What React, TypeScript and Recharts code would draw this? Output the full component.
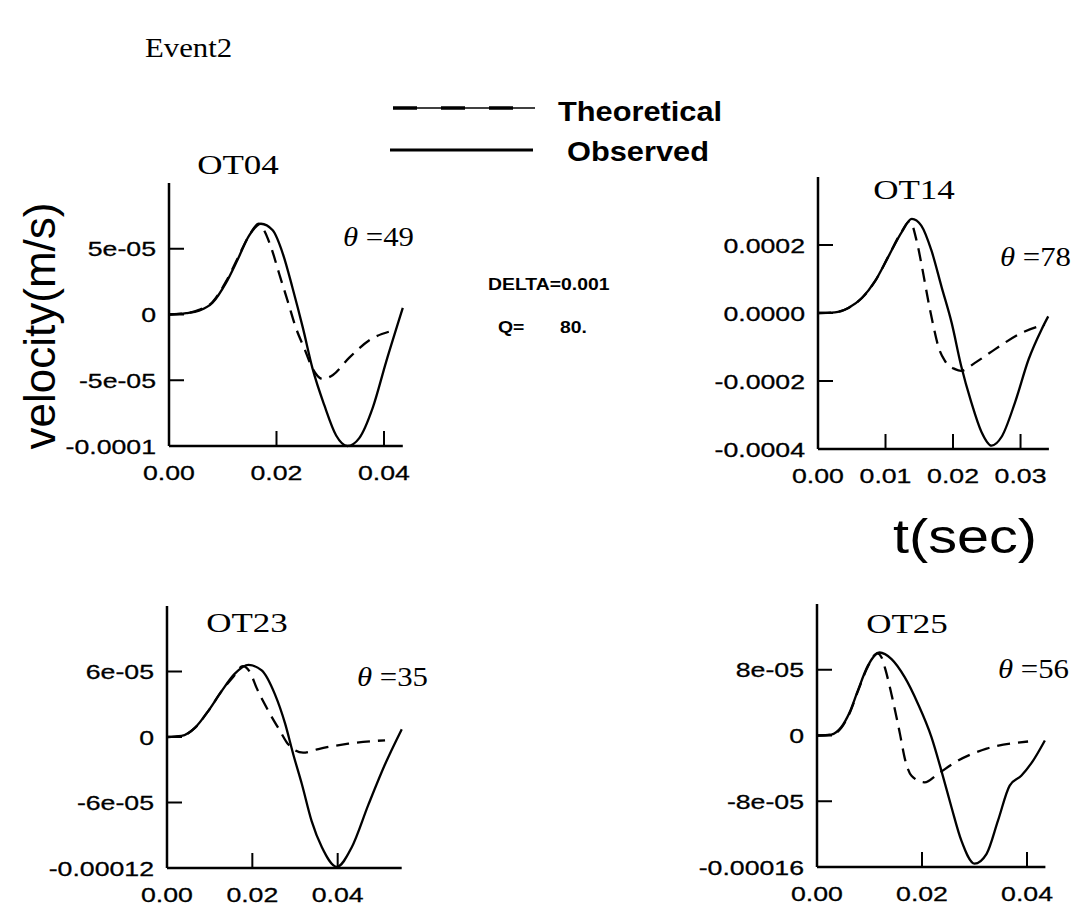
import React from "react";
import { LineChart, Line, XAxis, YAxis } from "recharts";

type Pt = [number, number];

// t (sec), velocity (m/s)
const ot04Observed: Pt[] = [
  [0, 0], [0.0032, 1e-6], [0.0056, 3e-6], [0.0081, 8.9e-6], [0.0106, 2.4e-5],
  [0.0128, 4.2e-5], [0.0149, 6e-5], [0.0171, 6.9e-5], [0.0193, 6.4e-5], [0.0212, 4.6e-5],
  [0.023, 2e-5], [0.0249, -1e-5], [0.0267, -4.1e-5], [0.0289, -6.9e-5], [0.0311, -9.2e-5],
  [0.0332, -1e-4], [0.0354, -9.4e-5], [0.0379, -7.1e-5], [0.0404, -3.6e-5], [0.0435, 5e-6],
];
const ot04Theoretical: Pt[] = [
  [0, 0], [0.0032, 1e-6], [0.0056, 3.5e-6], [0.0081, 9.5e-6], [0.0106, 2.5e-5],
  [0.0128, 4.3e-5], [0.0149, 6e-5], [0.0167, 6.9e-5], [0.0174, 6.6e-5], [0.019, 5.1e-5],
  [0.0205, 3.1e-5], [0.0221, 1e-5], [0.0236, -1e-5], [0.0252, -2.6e-5], [0.0267, -4.1e-5],
  [0.0286, -4.9e-5], [0.0305, -4.6e-5], [0.0335, -3.3e-5], [0.0379, -1.8e-5], [0.041, -1.3e-5],
];

const ot14Observed: Pt[] = [
  [0, 0], [0.0025, 2e-6], [0.0045, 1.5e-5], [0.0065, 4.4e-5], [0.0084, 9.2e-5],
  [0.0104, 1.65e-4], [0.0124, 2.38e-4], [0.0139, 2.77e-4], [0.0153, 2.57e-4], [0.0168, 1.84e-4],
  [0.0183, 7.7e-5], [0.0198, -2.9e-5], [0.0212, -1.55e-4], [0.0227, -2.62e-4], [0.0242, -3.49e-4],
  [0.0257, -3.9e-4], [0.0272, -3.64e-4], [0.0292, -2.62e-4], [0.0312, -1.36e-4], [0.0331, -4.9e-5],
  [0.0341, -1e-5],
];
const ot14Theoretical: Pt[] = [
  [0, 0], [0.0025, 2e-6], [0.0045, 1.5e-5], [0.0065, 4.4e-5], [0.0084, 9.2e-5],
  [0.0104, 1.65e-4], [0.0124, 2.4e-4], [0.0136, 2.7e-4], [0.0146, 2.13e-4], [0.0154, 1.36e-4],
  [0.0163, 3.9e-5], [0.0171, -3.9e-5], [0.0178, -9.7e-5], [0.0188, -1.41e-4], [0.0203, -1.65e-4],
  [0.0212, -1.7e-4], [0.0233, -1.46e-4], [0.0262, -1.07e-4], [0.0302, -5.8e-5], [0.0336, -3.4e-5],
];

const ot23Observed: Pt[] = [
  [0, 0], [0.0034, 1e-6], [0.0066, 8.6e-6], [0.0097, 2.4e-5], [0.0128, 4.2e-5],
  [0.0159, 5.8e-5], [0.0191, 6.6e-5], [0.0222, 6.1e-5], [0.0253, 3.9e-5], [0.0277, 1.2e-5],
  [0.0296, -1.6e-5], [0.0316, -4.3e-5], [0.0339, -7.7e-5], [0.0363, -1.01e-4], [0.0398, -1.19e-4],
  [0.0433, -1.01e-4], [0.0472, -6.2e-5], [0.0511, -2.5e-5], [0.055, 7e-6],
];
const ot23Theoretical: Pt[] = [
  [0, 0], [0.0034, 1e-6], [0.0066, 8.6e-6], [0.0097, 2.4e-5], [0.0128, 4.2e-5],
  [0.0155, 5.5e-5], [0.0178, 6.5e-5], [0.0195, 5.9e-5], [0.021, 4.5e-5], [0.0236, 2.5e-5],
  [0.0265, 5.5e-6], [0.0284, -6.7e-6], [0.0319, -1.44e-5], [0.0355, -1.1e-5], [0.0425, -6.1e-6],
  [0.0511, -3e-6],
];

const ot25Observed: Pt[] = [
  [0, 0], [0.0027, 1.2e-6], [0.0046, 1e-5], [0.0062, 2.8e-5], [0.0078, 5.5e-5],
  [0.0097, 8.5e-5], [0.0119, 1.01e-4], [0.0142, 9.3e-5], [0.0167, 7.1e-5], [0.0192, 3.9e-5],
  [0.0218, -2e-6], [0.0237, -4.3e-5], [0.0256, -8.7e-5], [0.0275, -1.28e-4], [0.03, -1.56e-4],
  [0.0323, -1.44e-4], [0.0345, -1.03e-4], [0.0367, -6.1e-5], [0.0389, -4.9e-5], [0.0408, -3.4e-5],
  [0.0434, -6e-6],
];
const ot25Theoretical: Pt[] = [
  [0, 0], [0.0027, 1e-6], [0.0046, 9e-6], [0.0062, 2.7e-5], [0.0078, 5.4e-5],
  [0.0097, 8.4e-5], [0.0115, 1e-4], [0.0123, 9.5e-5], [0.013, 8.1e-5], [0.0143, 4.7e-5],
  [0.0158, 2e-6], [0.0168, -3e-5], [0.018, -4.9e-5], [0.0205, -5.7e-5], [0.023, -4.7e-5],
  [0.0262, -3.3e-5], [0.0323, -1.6e-5], [0.0402, -7.3e-6],
];

// axis ticks and their printed labels
const ot04YTicks = [-1e-4, -5e-5, 0, 5e-5];
const ot04YLabels = ["-0.0001", "-5e-05", "0", "5e-05"];
const ot14YTicks = [-4e-4, -2e-4, 0, 2e-4];
const ot14YLabels = ["-0.0004", "-0.0002", "0.0000", "0.0002"];
const ot23YTicks = [-1.2e-4, -6e-5, 0, 6e-5];
const ot23YLabels = ["-0.00012", "-6e-05", "0", "6e-05"];
const ot25YTicks = [-1.6e-4, -8e-5, 0, 8e-5];
const ot25YLabels = ["-0.00016", "-8e-05", "0", "8e-05"];

const xTicks2 = [0, 0.02, 0.04];
const xLabels2 = ["0.00", "0.02", "0.04"];
const xTicks1 = [0, 0.01, 0.02, 0.03];
const xLabels1 = ["0.00", "0.01", "0.02", "0.03"];

const SANS = "'Liberation Sans', Arial, Helvetica, sans-serif";
const SERIF = "'Liberation Serif', 'Times New Roman', serif";

const Y_W = 150;
const X_H = 45;

function labelFor(ticks: number[], labels: string[], v: number) {
  let best = 0;
  ticks.forEach((t, i) => {
    if (Math.abs(t - v) < Math.abs(ticks[best] - v)) best = i;
  });
  return labels[best];
}

function makeYTick(ticks: number[], labels: string[]) {
  return (props: any) => {
    const { x, y, payload } = props;
    return (
      <g>
        <line x1={x} y1={y} x2={x + 15} y2={y} stroke="#000" strokeWidth={2} />
        <text
          transform={`translate(${x - 13},${y}) scale(1.27,1)`}
          textAnchor="end"
          dy="0.36em"
          fontSize={21}
          fontFamily={SANS}
          fill="#000"
          stroke="#000"
          strokeWidth={0.3}
        >
          {labelFor(ticks, labels, payload.value)}
        </text>
      </g>
    );
  };
}

function makeXTick(ticks: number[], labels: string[]) {
  return (props: any) => {
    const { x, y, payload } = props;
    return (
      <g>
        <line x1={x} y1={y} x2={x} y2={y - 15} stroke="#000" strokeWidth={2} />
        <text
          transform={`translate(${x},${y + 34}) scale(1.27,1)`}
          textAnchor="middle"
          fontSize={21}
          fontFamily={SANS}
          fill="#000"
          stroke="#000"
          strokeWidth={0.3}
        >
          {labelFor(ticks, labels, payload.value)}
        </text>
      </g>
    );
  };
}

interface PanelProps {
  left: number;
  top: number;
  w: number;
  h: number;
  xMax: number;
  yMax: number;
  xTicks: number[];
  xLabels: string[];
  yTicks: number[];
  yLabels: string[];
  observed: Pt[];
  theoretical: Pt[];
}

function Panel(p: PanelProps) {
  const obs = p.observed.map(([t, v]) => ({ t, v }));
  const theo = p.theoretical.map(([t, v]) => ({ t, v }));
  return (
    <div style={{ position: "absolute", left: p.left - Y_W, top: p.top }}>
      <LineChart
        width={Y_W + p.w + 12}
        height={p.h + X_H}
        margin={{ top: 0, right: 12, bottom: 0, left: 0 }}
      >
        <XAxis
          type="number"
          dataKey="t"
          domain={[0, p.xMax]}
          ticks={p.xTicks}
          interval={0}
          height={X_H}
          axisLine={{ stroke: "#000", strokeWidth: 2.5 }}
          tickLine={false}
          tickSize={0}
          tickMargin={0}
          tick={makeXTick(p.xTicks, p.xLabels)}
        />
        <YAxis
          type="number"
          dataKey="v"
          domain={[-p.yMax, p.yMax]}
          ticks={p.yTicks}
          interval={0}
          width={Y_W}
          axisLine={{ stroke: "#000", strokeWidth: 2.5 }}
          tickLine={false}
          tickSize={0}
          tickMargin={0}
          tick={makeYTick(p.yTicks, p.yLabels)}
        />
        <Line
          data={theo}
          dataKey="v"
          type="monotone"
          stroke="#000"
          strokeWidth={2.3}
          strokeDasharray="13 8"
          dot={false}
          isAnimationActive={false}
        />
        <Line
          data={obs}
          dataKey="v"
          type="monotone"
          stroke="#000"
          strokeWidth={2.3}
          dot={false}
          isAnimationActive={false}
        />
      </LineChart>
    </div>
  );
}

function SText(props: {
  x: number;
  y: number;
  sx?: number;
  size: number;
  family: string;
  weight?: string | number;
  anchor?: "start" | "middle" | "end";
  children: React.ReactNode;
}) {
  return (
    <text
      transform={`translate(${props.x},${props.y}) scale(${props.sx ?? 1},1)`}
      textAnchor={props.anchor ?? "start"}
      fontSize={props.size}
      fontFamily={props.family}
      fontWeight={props.weight ?? "normal"}
      fill="#000"
    >
      {props.children}
    </text>
  );
}

function Theta({ x, y, value }: { x: number; y: number; value: string }) {
  return (
    <SText x={x} y={y} sx={1.1} size={28} family={SERIF}>
      <tspan fontStyle="italic">θ</tspan> ={value}
    </SText>
  );
}

export default function App() {
  return (
    <div
      style={{
        position: "absolute",
        left: 0,
        top: 0,
        width: 1081,
        height: 921,
        background: "#fff",
        overflow: "hidden",
      }}
    >
      <Panel
        left={169}
        top={183}
        w={233.8}
        h={263}
        xMax={0.0435}
        yMax={1e-4}
        xTicks={xTicks2}
        xLabels={xLabels2}
        yTicks={ot04YTicks}
        yLabels={ot04YLabels}
        observed={ot04Observed}
        theoretical={ot04Theoretical}
      />
      <Panel
        left={818}
        top={177}
        w={230.9}
        h={272}
        xMax={0.0342}
        yMax={4e-4}
        xTicks={xTicks1}
        xLabels={xLabels1}
        yTicks={ot14YTicks}
        yLabels={ot14YLabels}
        observed={ot14Observed}
        theoretical={ot14Theoretical}
      />
      <Panel
        left={167}
        top={606}
        w={234.7}
        h={262}
        xMax={0.055}
        yMax={1.2e-4}
        xTicks={xTicks2}
        xLabels={xLabels2}
        yTicks={ot23YTicks}
        yLabels={ot23YLabels}
        observed={ot23Observed}
        theoretical={ot23Theoretical}
      />
      <Panel
        left={817}
        top={604}
        w={228.4}
        h={263}
        xMax={0.0435}
        yMax={1.6e-4}
        xTicks={xTicks2}
        xLabels={xLabels2}
        yTicks={ot25YTicks}
        yLabels={ot25YLabels}
        observed={ot25Observed}
        theoretical={ot25Theoretical}
      />
      <svg
        width={1081}
        height={921}
        style={{ position: "absolute", left: 0, top: 0, pointerEvents: "none" }}
      >
        <SText x={145} y={57} sx={1.1} size={28} family={SERIF}>
          Event2
        </SText>

        {/* legend */}
        <line x1={393} y1={108} x2={535} y2={108} stroke="#000" strokeWidth={1.3} />
        <line x1={393} y1={108} x2={535} y2={108} stroke="#000" strokeWidth={3.5} strokeDasharray="24 24" />
        <line x1={390} y1={150} x2={533} y2={150} stroke="#000" strokeWidth={3.2} />
        <SText x={558} y={121} sx={1.14} size={27} family={SANS} weight="bold">
          Theoretical
        </SText>
        <SText x={567} y={161} sx={1.14} size={27} family={SANS} weight="bold">
          Observed
        </SText>

        <SText x={238} y={174} sx={1.25} size={28} family={SERIF} anchor="middle">
          OT04
        </SText>
        <SText x={914} y={199} sx={1.25} size={28} family={SERIF} anchor="middle">
          OT14
        </SText>
        <SText x={247} y={632} sx={1.25} size={28} family={SERIF} anchor="middle">
          OT23
        </SText>
        <SText x={907} y={633} sx={1.25} size={28} family={SERIF} anchor="middle">
          OT25
        </SText>

        <Theta x={343} y={246} value="49" />
        <Theta x={1000} y={266} value="78" />
        <Theta x={357} y={686} value="35" />
        <Theta x={998} y={678} value="56" />

        <SText x={488} y={290} sx={1.14} size={17} family={SANS} weight="bold">
          DELTA=0.001
        </SText>
        <SText x={498} y={333} sx={1.14} size={17} family={SANS} weight="bold">
          Q=
        </SText>
        <SText x={560} y={333} sx={1.14} size={17} family={SANS} weight="bold">
          80.
        </SText>

        <text
          transform="translate(55,326) rotate(-90)"
          textAnchor="middle"
          fontSize={44}
          fontFamily={SANS}
          fill="#000"
        >
          velocity(m/s)
        </text>
        <SText x={893} y={553} sx={1.2} size={48} family={SANS}>
          t(sec)
        </SText>
      </svg>
    </div>
  );
}
